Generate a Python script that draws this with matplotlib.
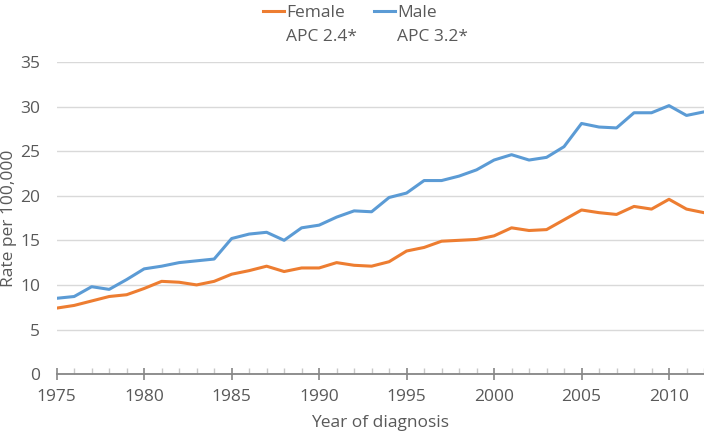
import matplotlib.pyplot as plt
from matplotlib.ticker import MultipleLocator

plt.rcParams['font.family'] = ['Open Sans', 'DejaVu Sans']

# data
years = list(range(1975, 2013))
male = [8.5, 8.7, 9.8, 9.5, 10.6, 11.8, 12.1, 12.5, 12.7, 12.9,
        15.2, 15.7, 15.9, 15.0, 16.4, 16.7, 17.6, 18.3, 18.2, 19.8,
        20.3, 21.7, 21.7, 22.2, 22.9, 24.0, 24.6, 24.0, 24.3, 25.5,
        28.1, 27.7, 27.6, 29.3, 29.3, 30.1, 29.0, 29.4]
female = [7.4, 7.7, 8.2, 8.7, 8.9, 9.6, 10.4, 10.3, 10.0, 10.4,
          11.2, 11.6, 12.1, 11.5, 11.9, 11.9, 12.5, 12.2, 12.1, 12.6,
          13.8, 14.2, 14.9, 15.0, 15.1, 15.5, 16.4, 16.1, 16.2, 17.3,
          18.4, 18.1, 17.9, 18.8, 18.5, 19.6, 18.5, 18.1]
labels = ["Female", "Male"]
apc = ["APC 2.4*", "APC 3.2*"]

text_col = "#595959"
fs = 12.5

fig = plt.figure(figsize=(7.04, 4.33), dpi=100)
ax = fig.add_axes([0.0805, 0.136, 0.9195, 0.721])

ax.plot(years, female, color="#ED7D31", lw=2.2, label=labels[0])
ax.plot(years, male, color="#5B9BD5", lw=2.2, label=labels[1])

ax.set_xlim(1975, 2012)
ax.set_ylim(0, 35)
ax.xaxis.set_major_locator(MultipleLocator(5))
ax.xaxis.set_minor_locator(MultipleLocator(1))
ax.yaxis.set_major_locator(MultipleLocator(5))
ax.grid(axis="y", color="#d9d9d9", lw=1)
ax.set_axisbelow(True)

for s in ["top", "right", "left"]:
    ax.spines[s].set_visible(False)
ax.spines["bottom"].set_color("#868686")
ax.spines["bottom"].set_linewidth(1.3)
ax.spines["bottom"].set_zorder(3)

ax.tick_params(axis="x", which="major", direction="inout", length=8,
               color="#868686", width=1.2, labelsize=fs, labelcolor=text_col, pad=7)
ax.tick_params(axis="x", which="minor", direction="in", length=4,
               color="#c8c8c8", width=1)
ax.tick_params(axis="y", length=0, labelsize=fs, labelcolor=text_col, pad=12)

ax.set_xlabel("Year of diagnosis", fontsize=fs, color=text_col, labelpad=7)
ax.set_ylabel("Rate per 100,000", fontsize=fs, color=text_col, labelpad=2)

leg = fig.legend(loc="upper center", bbox_to_anchor=(0.497, 1.025), ncol=2,
                 frameon=False, fontsize=12.5, handlelength=1.2, handletextpad=0.1,
                 columnspacing=1.7)
for t in leg.get_texts():
    t.set_color(text_col)

# second legend row with the APC values
fig.canvas.draw()
for t, s in zip(leg.get_texts(), apc):
    bb = t.get_window_extent()
    x0, y0 = fig.transFigure.inverted().transform((bb.x0, bb.y0))
    fig.text(x0, y0 - 0.018, s, fontsize=12.5, color=text_col, va="top", ha="left")

fig.savefig("out.png", dpi=100)
